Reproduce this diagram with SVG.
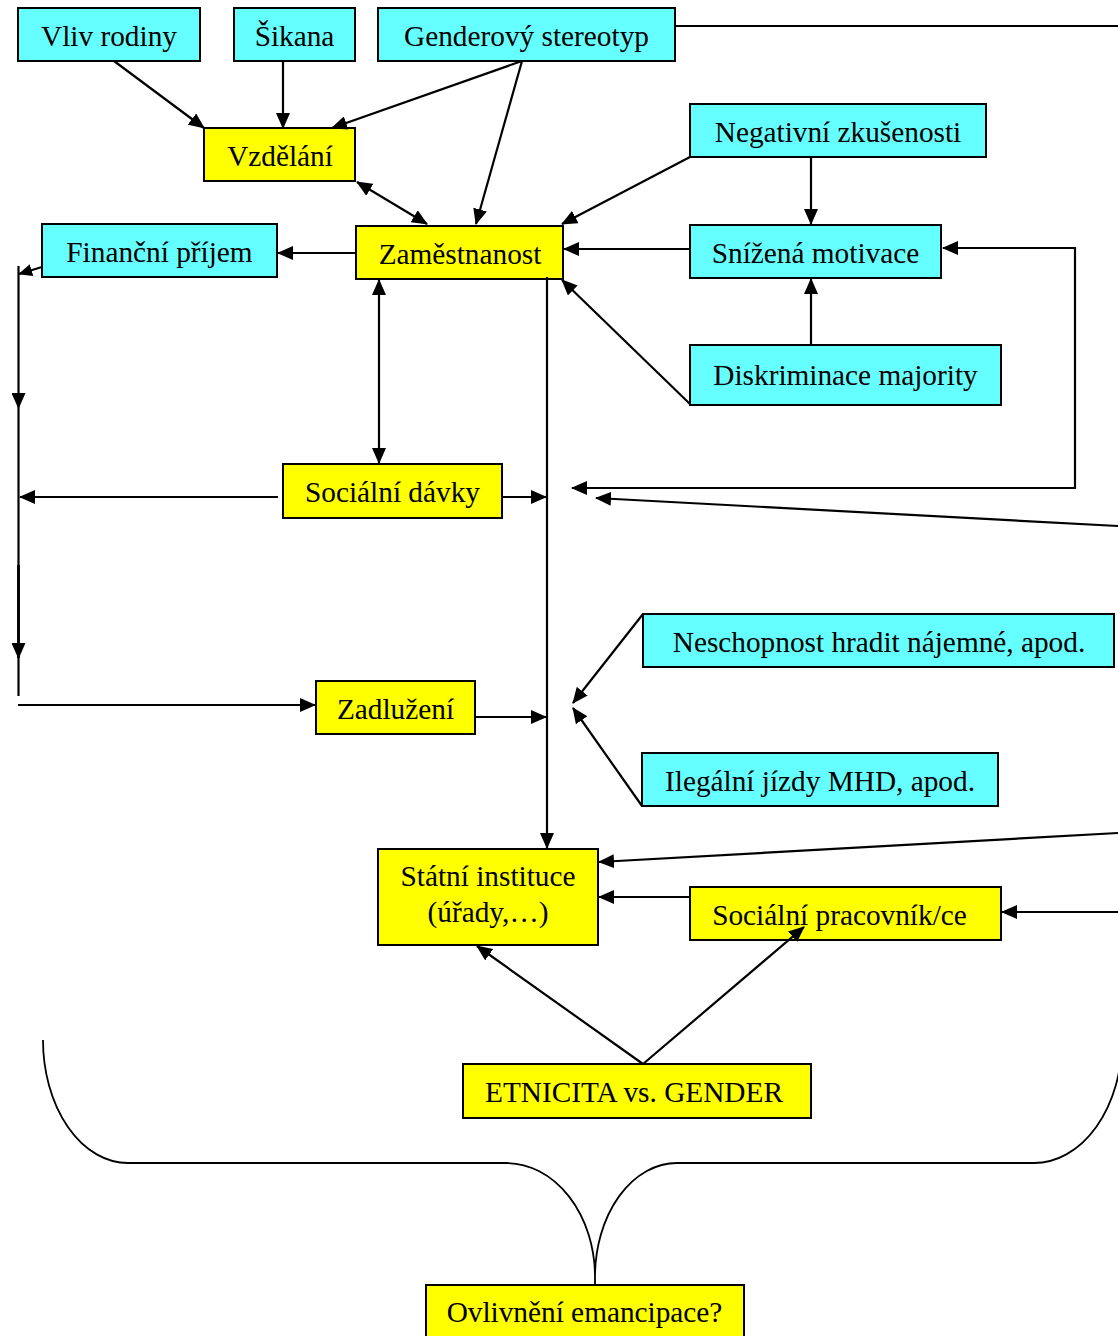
<svg xmlns="http://www.w3.org/2000/svg" width="1118" height="1336" viewBox="0 0 1118 1336">
<style>
.c{fill:#66FFFF;stroke:#000;stroke-width:2}
.y{fill:#FFFF00;stroke:#000;stroke-width:2}
text{font-family:"Liberation Serif","Times New Roman",serif;font-size:29.3px;fill:#000;text-anchor:middle}
.ln{fill:none;stroke:#000;stroke-width:2.2}
.a{marker-end:url(#ah)}
.b{marker-start:url(#ah);marker-end:url(#ah)}
</style>
<defs>
<marker id="ah" viewBox="0 0 16 14" refX="15" refY="7" markerWidth="16" markerHeight="14" markerUnits="userSpaceOnUse" orient="auto-start-reverse">
<path d="M0,0 L16,7 L0,14 z" fill="#000"/>
</marker>
<marker id="ahs" viewBox="0 0 16 14" refX="15" refY="7" markerWidth="14" markerHeight="14" markerUnits="userSpaceOnUse" orient="auto">
<path d="M0,0 L16,7 L0,14 z" fill="#000"/>
</marker>
</defs>
<g id="nodes">
<g id="vliv"><rect class="c" x="18" y="8" width="182" height="53"/><text x="109" y="46">Vliv rodiny</text></g>
<g id="sikana"><rect class="c" x="234" y="8" width="121" height="53"/><text x="294.5" y="46">Šikana</text></g>
<g id="gender"><rect class="c" x="378" y="8" width="297" height="53"/><text x="526.5" y="46">Genderový stereotyp</text></g>
<g id="vzdelani"><rect class="y" x="204" y="128" width="151" height="53"/><text x="280" y="166">Vzdělání</text></g>
<g id="negativni"><rect class="c" x="690" y="104" width="296" height="53"/><text x="838" y="142">Negativní zkušenosti</text></g>
<g id="zamestnanost"><rect class="y" x="356" y="226" width="207" height="53"/><text x="460" y="264">Zaměstnanost</text></g>
<g id="financni"><rect class="c" x="42" y="224" width="235" height="53"/><text x="159.5" y="262">Finanční příjem</text></g>
<g id="snizena"><rect class="c" x="690" y="225" width="251" height="53"/><text x="815.5" y="263">Snížená motivace</text></g>
<g id="diskriminace"><rect class="c" x="690" y="345" width="311" height="60"/><text x="845.5" y="385">Diskriminace majority</text></g>
<g id="davky"><rect class="y" x="283" y="464" width="219" height="54"/><text x="392.5" y="502">Sociální dávky</text></g>
<g id="neschopnost"><rect class="c" x="643" y="614" width="471" height="53"/><text x="879" y="652">Neschopnost hradit nájemné, apod.</text></g>
<g id="zadluzeni"><rect class="y" x="316" y="681" width="159" height="53"/><text x="395.5" y="719">Zadlužení</text></g>
<g id="ilegalni"><rect class="c" x="642" y="753" width="356" height="53"/><text x="820" y="791">Ilegální jízdy MHD, apod.</text></g>
<g id="statni"><rect class="y" x="378" y="849" width="220" height="96"/><text x="488" y="886">Státní instituce</text><text x="488" y="922">(úřady,…)</text></g>
<g id="pracovnik"><rect class="y" x="690" y="887" width="311" height="53"/><text x="839.5" y="925">Sociální pracovník/ce</text></g>
<g id="etnicita"><rect class="y" x="463" y="1064" width="348" height="54"/><text x="634" y="1102">ETNICITA vs. GENDER</text></g>
<g id="ovlivneni"><rect class="y" x="426" y="1285" width="318" height="60"/><text x="584.5" y="1322">Ovlivnění emancipace?</text></g>
</g>
<g id="connectors">
<path class="ln a" d="M114,61 L204,128"/>
<path class="ln a" d="M283,61 L283,128"/>
<path class="ln a" d="M522,61 L332,128"/>
<path class="ln a" d="M522,61 L476,224"/>
<path class="ln b" d="M357,182 L427,224"/>
<path class="ln a" d="M690,157 L562,224"/>
<path class="ln a" d="M811,157 L811,224"/>
<path class="ln a" d="M690,249 L564,249"/>
<path class="ln a" d="M811,345 L811,279"/>
<path class="ln a" d="M690,404 L562,280"/>
<path class="ln a" d="M356,253 L278,253"/>
<path class="ln" d="M42,267 L19,274" marker-end="url(#ahs)"/>
<path class="ln a" d="M18.5,266 L18.5,408"/>
<path class="ln" d="M18.5,408 L18.5,696"/>
<path class="ln a" d="M18.5,565 L18.5,658" style="stroke-width:2.8"/>
<path class="ln b" d="M379,280 L379,463"/>
<path class="ln a" d="M278,497 L20,497"/>
<path class="ln a" d="M502,497 L546,497"/>
<path class="ln a" d="M547,277 L547,848"/>
<path class="ln a" d="M475,717 L546,717"/>
<path class="ln a" d="M18,705 L315,705"/>
<path class="ln b" d="M943,248 L1075,248 L1075,488 L572,488"/>
<path class="ln a" d="M1118,526 L596,498"/>
<path class="ln" d="M675,26 L1118,26"/>
<path class="ln a" d="M643,614 L573,703"/>
<path class="ln a" d="M642,806 L573,708"/>
<path class="ln a" d="M1118,833 L599,862"/>
<path class="ln a" d="M1118,912 L1002,912"/>
<path class="ln a" d="M690,897 L599,897"/>
<path class="ln a" d="M643,1064 L477,946"/>
<path class="ln a" d="M643,1064 L804,927"/>
<path class="ln" d="M43,1040 A85,123 0 0 0 128,1163 L506,1163 A89,114 0 0 1 595,1277 L595,1285 M595,1277 A82,114 0 0 1 677,1163 L1034,1163 A88,123 0 0 0 1122,1040" style="stroke-width:1.8"/>
</g>
</svg>
